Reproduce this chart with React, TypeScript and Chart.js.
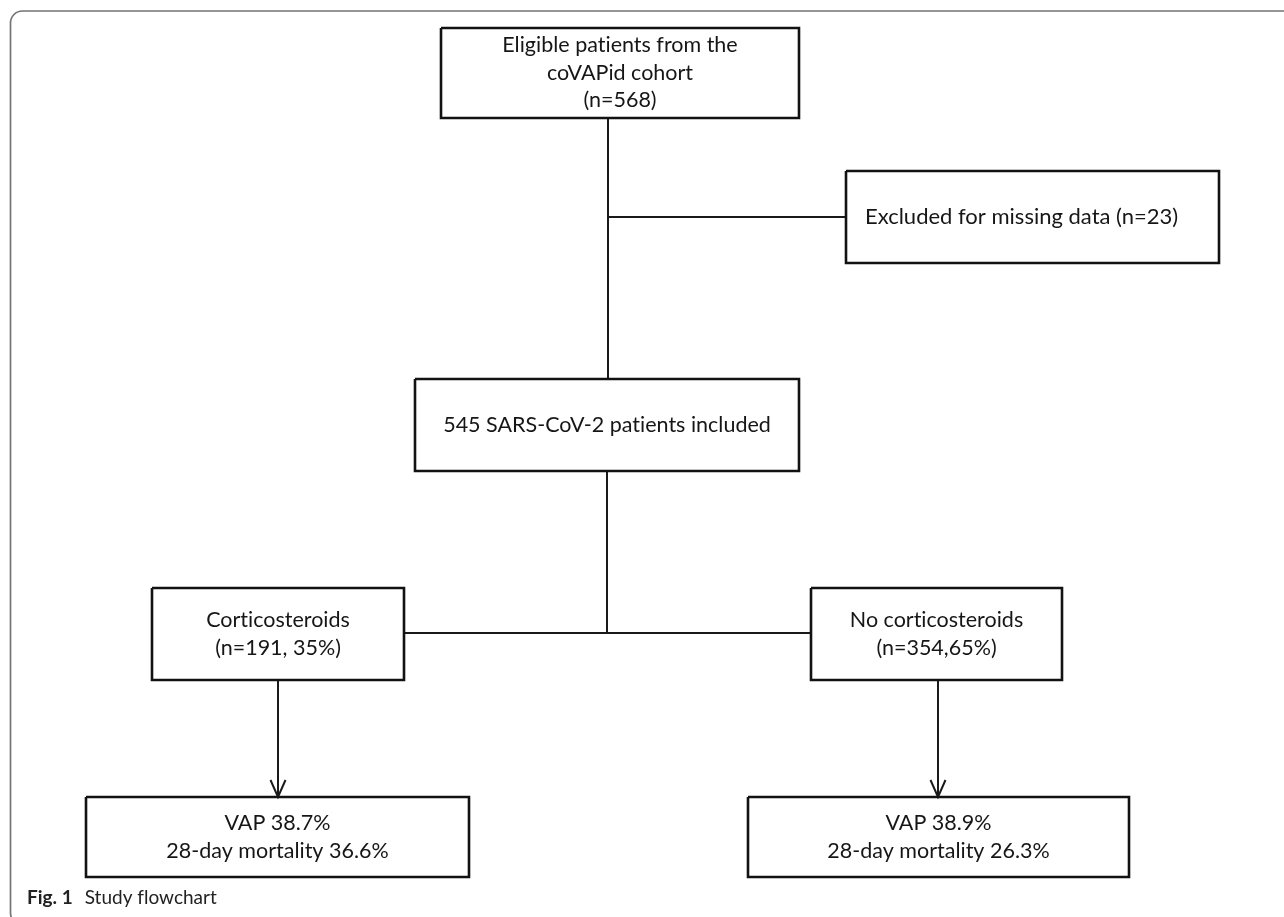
import React, { useEffect, useRef } from "react";
import { Chart, registerables } from "chart.js";

Chart.register(...registerables);

// ---- Flowchart content ----
const nodeText: string[][] = [
  ["Eligible patients from the", "coVAPid cohort", "(n=568)"],
  ["Excluded for missing data (n=23)"],
  ["545 SARS-CoV-2 patients included"],
  ["Corticosteroids", "(n=191, 35%)"],
  ["No corticosteroids", "(n=354,65%)"],
  ["VAP 38.7%", "28-day mortality 36.6%"],
  ["VAP 38.9%", "28-day mortality 26.3%"],
];
const nodeAlign = ["center", "left", "center", "center", "center", "center", "center"];

// ---- Layout of nodes (chart units) ----
const nodeLeft = [441, 846, 415, 152, 811, 86, 748];
const nodeRight = [799, 1219, 799, 404, 1062, 469, 1129];
const nodeTop = [28, 171, 379, 588, 588, 797, 797];
const nodeBottom = [118, 263, 471, 680, 680, 877, 877];

// ---- Connectors: start / end points and whether it ends with an arrow ----
const connFrom: number[][] = [
  [608, 118], [608, 217], [607, 471], [404, 633], [278, 680], [938, 680],
];
const connTo: number[][] = [
  [608, 379], [846, 217], [607, 633], [811, 633], [278, 797], [938, 797],
];
const connArrow = [false, false, false, false, true, true];

const captionBold = "Fig. 1";
const captionText = "Study flowchart";

const FONT = "Lato, 'Noto Sans', sans-serif";

export default function App() {
  const ref = useRef<HTMLCanvasElement | null>(null);

  useEffect(() => {
    document.body.style.margin = "0";
    const canvas = ref.current;
    if (!canvas) return;

    const datasets: any[] = [];
    nodeText.forEach((_, i) => {
      datasets.push({
        data: [
          { x: nodeLeft[i], y: nodeTop[i] },
          { x: nodeRight[i], y: nodeTop[i] },
          { x: nodeRight[i], y: nodeBottom[i] },
          { x: nodeLeft[i], y: nodeBottom[i] },
          { x: nodeLeft[i], y: nodeTop[i] },
        ],
        showLine: true,
        borderColor: "#121212",
        borderWidth: 2.6,
        borderJoinStyle: "miter",
        pointRadius: 0,
        fill: false,
      });
    });
    connFrom.forEach((f, i) => {
      const t = connTo[i];
      datasets.push({
        data: [
          { x: f[0], y: f[1] },
          { x: t[0], y: t[1] },
        ],
        showLine: true,
        borderColor: "#1a1a1a",
        borderWidth: 2,
        pointRadius: 0,
        fill: false,
      });
      if (connArrow[i]) {
        datasets.push({
          data: [
            { x: t[0] - 7.5, y: t[1] - 17 },
            { x: t[0], y: t[1] },
            { x: t[0] + 7.5, y: t[1] - 17 },
          ],
          showLine: true,
          borderColor: "#1a1a1a",
          borderWidth: 2,
          borderJoinStyle: "miter",
          pointRadius: 0,
          fill: false,
        });
      }
    });

    const textPlugin = {
      id: "flowText",
      beforeDraw(chart: any) {
        const { ctx, scales } = chart;
        const x = scales.x, y = scales.y;
        ctx.save();
        ctx.fillStyle = "#ffffff";
        ctx.fillRect(0, 0, chart.width, chart.height);
        // outer frame (rounded, opens to the right/bottom)
        const l = x.getPixelForValue(10.5), t = y.getPixelForValue(11);
        const r = x.getPixelForValue(1320), b = y.getPixelForValue(925);
        const rad = 12;
        ctx.beginPath();
        ctx.moveTo(r, t);
        ctx.lineTo(l + rad, t);
        ctx.arcTo(l, t, l, t + rad, rad);
        ctx.lineTo(l, b - rad);
        ctx.arcTo(l, b, l + rad, b, rad);
        ctx.lineTo(r, b);
        ctx.strokeStyle = "#747474";
        ctx.lineWidth = 1.7;
        ctx.stroke();
        ctx.restore();
      },
      afterDatasetsDraw(chart: any) {
        const { ctx, scales } = chart;
        const x = scales.x, y = scales.y;
        ctx.save();
        try { (ctx as any).textRendering = "optimizeSpeed"; } catch (e) {}
        ctx.fillStyle = "#161616";
        ctx.textBaseline = "middle";
        const lineH = 27.5;
        nodeText.forEach((lines, i) => {
          ctx.font = `${i === 1 ? 22 : 21.5}px ${FONT}`;
          const cy = (y.getPixelForValue(nodeTop[i]) + y.getPixelForValue(nodeBottom[i])) / 2;
          const left = x.getPixelForValue(nodeLeft[i]);
          const right = x.getPixelForValue(nodeRight[i]);
          const n = lines.length;
          lines.forEach((s, k) => {
            const yy = cy + (k - (n - 1) / 2) * lineH;
            if (nodeAlign[i] === "left") {
              ctx.textAlign = "left";
              ctx.fillText(s, left + 19, yy);
            } else {
              ctx.textAlign = "center";
              ctx.fillText(s, (left + right) / 2, yy);
            }
          });
        });
        // caption
        const capX = x.getPixelForValue(27);
        const capY = y.getPixelForValue(898);
        ctx.textAlign = "left";
        ctx.fillStyle = "#222";
        ctx.font = `bold 19px ${FONT}`;
        ctx.fillText(captionBold, capX, capY);
        const w = ctx.measureText(captionBold).width;
        ctx.font = `19px ${FONT}`;
        ctx.fillText(captionText, capX + w + 12, capY);
        ctx.restore();
      },
    };

    const chart = new Chart(canvas, {
      type: "scatter",
      data: { datasets },
      options: {
        animation: false,
        responsive: true,
        maintainAspectRatio: false,
        layout: { padding: 0 },
        events: [],
        plugins: { legend: { display: false }, tooltip: { enabled: false } },
        scales: {
          x: { type: "linear", min: 0, max: 1284, display: false },
          y: { type: "linear", min: 0, max: 917, reverse: true, display: false },
        },
      },
      plugins: [textPlugin],
    });
    return () => chart.destroy();
  }, []);

  return (
    <div style={{ position: "fixed", left: 0, top: 0, width: 1284, height: 917 }}>
      <canvas ref={ref} />
    </div>
  );
}
